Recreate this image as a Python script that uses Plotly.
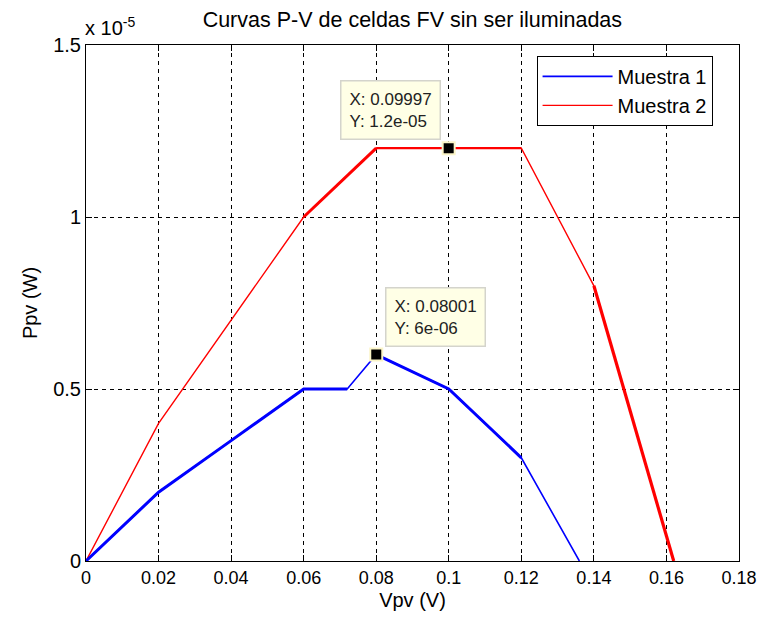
import plotly.graph_objects as go

# Data (V, W)
v1 = [0, 0.02, 0.04, 0.06, 0.072, 0.08, 0.10, 0.12, 0.136]
p1 = [0, 0.2e-5, 0.35e-5, 0.5e-5, 0.5e-5, 0.6e-5, 0.5e-5, 0.3e-5, 0]
v2 = [0, 0.02, 0.06, 0.08, 0.12, 0.14, 0.162]
p2 = [0, 0.4e-5, 1.0e-5, 1.2e-5, 1.2e-5, 0.8e-5, 0]

series_names = ["Muestra 1", "Muestra 2"]
x_ticks = [0, 0.02, 0.04, 0.06, 0.08, 0.1, 0.12, 0.14, 0.16, 0.18]
x_ticklabels = ["0", "0.02", "0.04", "0.06", "0.08", "0.1", "0.12", "0.14", "0.16", "0.18"]
y_ticks = [0, 0.5e-5, 1.0e-5, 1.5e-5]
y_ticklabels = ["0", "0.5", "1", "1.5"]

# data tips
tips = [
    {"x": 0.09997, "y": 1.2e-5, "label": "X: 0.09997<br>Y: 1.2e-05"},
    {"x": 0.08001, "y": 6e-6, "label": "X: 0.08001<br>Y: 6e-06"},
]

BLUE = "#0000ff"
RED = "#ff0000"
FONT = "Liberation Sans, Arial, sans-serif"

fig = go.Figure()
fig.add_trace(go.Scatter(x=v1, y=p1, mode="lines", name=series_names[0],
                         line=dict(color=BLUE, width=1.6)))
fig.add_trace(go.Scatter(x=v2, y=p2, mode="lines", name=series_names[1],
                         line=dict(color=RED, width=1.4)))

# thicker rendered segments (index ranges into the series)
thick = [(v1, p1, BLUE, 0, 4, 3.0), (v1, p1, BLUE, 5, 7, 3.0),
         (v2, p2, RED, 2, 3, 3.0), (v2, p2, RED, 3, 4, 2.2), (v2, p2, RED, 5, 6, 3.2)]
for xs, ys, c, a, b, w in thick:
    fig.add_trace(go.Scatter(x=xs[a:b + 1], y=ys[a:b + 1], mode="lines",
                             line=dict(color=c, width=w), showlegend=False,
                             hoverinfo="skip"))

# data tip markers
fig.add_trace(go.Scatter(x=[t["x"] for t in tips], y=[t["y"] for t in tips],
                         mode="markers", showlegend=False,
                         marker=dict(symbol="square", size=12, color="black",
                                     line=dict(color="#fbf5c8", width=2))))

for t, (dx, dy) in zip(tips, [(-109, 8), (9, 8)]):
    fig.add_annotation(x=t["x"], y=t["y"], text=t["label"], showarrow=False,
                       xshift=dx, yshift=dy,
                       xanchor="left", yanchor="bottom", align="left",
                       bgcolor="#ffffe6", bordercolor="#d4d4cc", borderwidth=1.5,
                       borderpad=8, font=dict(family=FONT, size=17, color="#222"))

fig.add_annotation(xref="paper", yref="paper", x=0, y=1, xanchor="left", yanchor="bottom",
                   text="x 10<sup>-5</sup>", showarrow=False, yshift=4, xshift=-3,
                   font=dict(family=FONT, size=20, color="black"))

axis_common = dict(showline=True, linecolor="black", linewidth=1, mirror="allticks",
                   ticks="inside", ticklen=6, tickcolor="black", automargin=False,
                   ticklabeloverflow="allow",
                   showgrid=True, gridcolor="black", griddash="4px,4px", gridwidth=1,
                   zeroline=False)

fig.update_xaxes(range=[0, 0.18], tickvals=x_ticks, ticktext=x_ticklabels,
                 tickfont=dict(family=FONT, size=18, color="black"),
                 title=dict(text="Vpv (V)", font=dict(family=FONT, size=20, color="black"),
                            standoff=6), **axis_common)
fig.update_yaxes(range=[0, 1.5e-5], tickvals=y_ticks, ticktext=y_ticklabels,
                 tickfont=dict(family=FONT, size=20, color="black"),
                 title=dict(text="Ppv (W)", font=dict(family=FONT, size=20, color="black"),
                            standoff=10), **axis_common)

fig.update_layout(
    width=758, height=622,
    margin=dict(l=86, r=19, t=45, b=61),
    paper_bgcolor="white", plot_bgcolor="white",
    title=dict(text="Curvas P-V de celdas FV sin ser iluminadas", x=0.544, xanchor="center",
               y=0.968, yanchor="middle", font=dict(family=FONT, size=21.5, color="black")),
    legend=dict(x=0.69, y=0.979, xanchor="left", yanchor="top",
                bordercolor="black", borderwidth=1, bgcolor="white",
                font=dict(family=FONT, size=20, color="black"),
                itemwidth=70, tracegroupgap=0),
    showlegend=True,
)

fig.write_html("out.html")
